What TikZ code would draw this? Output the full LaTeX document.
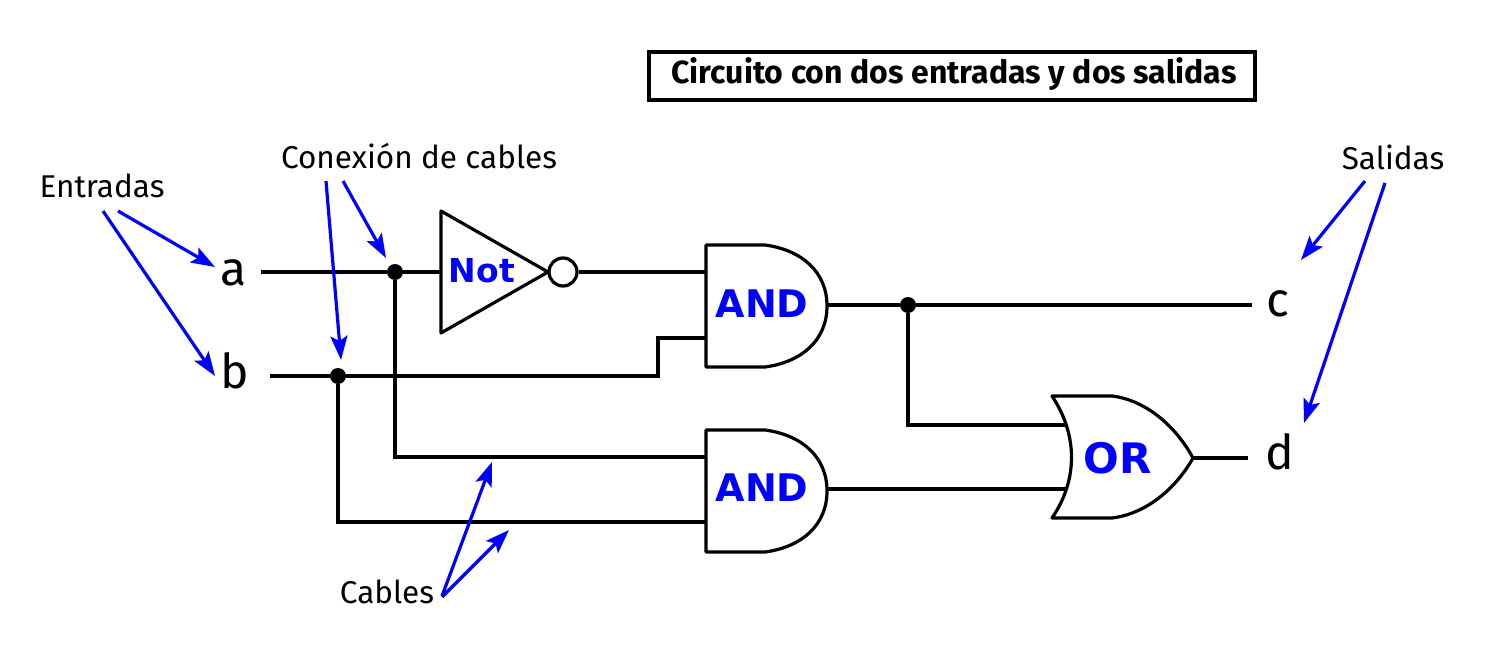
\documentclass[tikz,border=0pt]{standalone}
\usepackage{fontspec}
\setmainfont{Fira Sans}
\newfontfamily\gatefont[BoldFont={* Bold}]{DejaVu Sans}
\usetikzlibrary{arrows.meta}
\tikzset{
wire/.style={line width=3.2pt},
note/.style={-{Stealth[length=24pt,width=17pt,inset=5pt]},blue,line width=3.2pt},
junction/.style={circle,fill=black,inner sep=0pt,minimum size=16pt},
lbl/.style={anchor=base,font=\fontsize{31.5}{36}\selectfont},
pinlbl/.style={anchor=base,font=\fontsize{48}{54}\selectfont},
gatelbl/.style={anchor=base,blue,font=\gatefont\bfseries\fontsize{38}{48}\selectfont},
}
\begin{document}
\begin{tikzpicture}[x=1pt,y=-1pt]
\useasboundingbox(0,0)rectangle(1492,658);
\fill[white](0,0)rectangle(1492,658);
\node(title)at(952,76)[draw,line width=3.2pt,minimum width=606pt,minimum height=48pt,inner sep=0pt]{};
\node(titletext)at(954,84)[anchor=base,font=\bfseries\fontsize{32}{36}\selectfont]{Circuito con dos entradas y dos salidas};
\node(entradas)at(102,197)[lbl]{Entradas};
\node(conexion)at(419,168)[lbl]{Conexión de cables};
\node(salidas)at(1393,170)[lbl]{Salidas};
\node(cables)at(387,603)[lbl]{Cables};
\node(a)at(234,285)[pinlbl]{a};
\node(b)at(235,388)[pinlbl]{b};
\node(c)at(1278,316)[pinlbl]{c};
\node(d)at(1280,469)[pinlbl]{d};
\coordinate(ain)at(261,272);
\coordinate(bin)at(270,376);
\coordinate(cout)at(1252,305);
\coordinate(dout)at(1248,458);
\coordinate(notin)at(441,272);
\coordinate(andAi)at(706,272);
\coordinate(andAj)at(706,338);
\coordinate(bend)at(658,376);
\coordinate(bendup)at(658,338);
\coordinate(andAo)at(827,305);
\coordinate(andBi)at(706,457);
\coordinate(andBj)at(706,522);
\coordinate(andBo)at(827,489);
\coordinate(orAi)at(1066,425);
\coordinate(orBi)at(1066,489);
\coordinate(orout)at(1193,458);
\coordinate(cornA)at(395,457);
\coordinate(cornB)at(338,522);
\coordinate(cornC)at(908,425);
\node(jA)at(395,272)[junction]{};
\node(jB)at(338,376)[junction]{};
\node(jC)at(908,305)[junction]{};
\node(bubble)at(563,272)[circle,draw,line width=3.2pt,minimum size=28pt,inner sep=0pt]{};
\draw[wire,line join=round](441,211)--(548,272)--(441,333)--cycle;
\draw[wire,line join=round](706,245)--(765,245)..controls(802,250)and(827,272)..(827,306)..controls(827,340)and(802,362)..(765,367)--(706,367)--cycle;
\draw[wire,line join=round](706,430)--(765,430)..controls(802,435)and(827,457)..(827,491)..controls(827,525)and(802,547)..(765,552)--(706,552)--cycle;
\draw[wire,line join=round](1052,396)--(1112,396)..controls(1145,400)and(1175,425)..(1193,458)..controls(1175,490)and(1145,514)..(1112,518)--(1052,518)..controls(1078,480)and(1078,435)..(1052,396)--cycle;
\draw[wire](ain)--(jA);
\draw[wire](jA)--(notin);
\draw[wire](bubble)--(andAi);
\draw[wire](bin)--(jB);
\draw[wire](jB)--(bend)--(bendup)--(andAj);
\draw[wire](jA)--(cornA)--(andBi);
\draw[wire](jB)--(cornB)--(andBj);
\draw[wire](andAo)--(jC);
\draw[wire](jC)--(cout);
\draw[wire](jC)--(cornC)--(orAi);
\draw[wire](andBo)--(orBi);
\draw[wire](orout)--(dout);
\node(notlbl)at(482,282)[gatelbl,font=\gatefont\bfseries\fontsize{33}{38}\selectfont]{Not};
\node(andAlbl)at(762,317)[gatelbl]{AND};
\node(andBlbl)at(762,501)[gatelbl]{AND};
\node(orlbl)at(1118,473)[gatelbl,font=\gatefont\bfseries\fontsize{42}{48}\selectfont]{OR};
\coordinate(entA)at(118,211);
\coordinate(entB)at(103,211);
\coordinate(conA)at(343,181);
\coordinate(conB)at(326,181);
\coordinate(salA)at(1365,181);
\coordinate(salB)at(1385,183);
\coordinate(cabA)at(442,596);
\coordinate(cabB)at(442,597);
\coordinate(toa)at(215,267);
\coordinate(tob)at(215,376);
\coordinate(tojA)at(386,258);
\coordinate(tojB)at(341,360);
\coordinate(toc)at(1301,260);
\coordinate(tod)at(1304,423);
\coordinate(towA)at(492,462);
\coordinate(towB)at(509,530);
\draw[note](entA)--(toa);
\draw[note](entB)--(tob);
\draw[note](conA)--(tojA);
\draw[note](conB)--(tojB);
\draw[note](salA)--(toc);
\draw[note](salB)--(tod);
\draw[note](cabA)--(towA);
\draw[note](cabB)--(towB);
\end{tikzpicture}
\end{document}
